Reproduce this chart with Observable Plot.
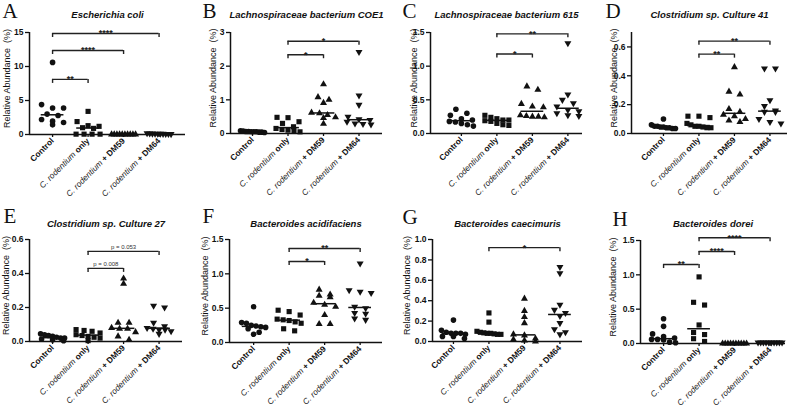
<!DOCTYPE html>
<html><head><meta charset="utf-8">
<script src="https://cdn.jsdelivr.net/npm/d3@7"></script>
<script src="https://cdn.jsdelivr.net/npm/@observablehq/plot@0.6"></script>
<style>
body{margin:0;background:#fff;}
#fig{position:relative;width:800px;height:409px;overflow:hidden;background:#fff;}
#fig > div{position:absolute;}
</style></head><body><div id="fig"></div>
<script>
// ---------- data ----------
const groups = ["Control", "C. rodentium only", "C. rodentium + DM59", "C. rodentium + DM64"];
const panelLetters = ["A", "B", "C", "D", "E", "F", "G", "H"];
const panelTitles = ["Escherichia coli", "Lachnospiraceae bacterium COE1", "Lachnospiraceae bacterium 615",
  "Clostridium sp. Culture 41", "Clostridium sp. Culture 27", "Bacteroides acidifaciens",
  "Bacteroides caecimuris", "Bacteroides dorei"];
const yMax = [15, 3, 1.5, 0.7, 0.6, 1.5, 1.0, 1.5];
const yTicks = [[0, 5, 10, 15], [0, 1, 2, 3], [0, 0.5, 1.0, 1.5], [0, 0.2, 0.4, 0.6],
  [0, 0.2, 0.4, 0.6], [0, 0.5, 1.0, 1.5], [0, 0.2, 0.4, 0.6, 0.8, 1.0], [0, 0.5, 1.0, 1.5]];
const yLabel = "Relative Abundance  (%)";

const escherichiaColi = [
  [10.6, 4.4, 3.9, 3.9, 3.0, 2.8, 2.2, 1.96, 1.76, 1.42],
  [3.4, 1.9, 1.3, 1.2, 1.0, 0.9, 0.05, 0.05, 0.05, 0.05],
  [0.02, 0.02, 0.02, 0.02, 0.02, 0.02, 0.02, 0.02, 0.02, 0.02],
  [0.18, 0.15, 0.13, 0.12, 0.1, 0.1, 0.09, 0.08, 0.08, 0.06]];
const lachnoCOE1 = [
  [0.08, 0.07, 0.06, 0.06, 0.05, 0.05, 0.05, 0.04, 0.04, 0.03],
  [0.48, 0.47, 0.35, 0.3, 0.2, 0.15, 0.12, 0.1, 0.08, 0.05],
  [1.46, 1.08, 1.0, 0.91, 0.62, 0.6, 0.55, 0.48, 0.46, 0.29],
  [2.42, 1.13, 0.85, 0.5, 0.42, 0.4, 0.35, 0.3, 0.28, 0.27]];
const lachno615 = [
  [0.36, 0.3, 0.27, 0.22, 0.2, 0.18, 0.17, 0.15, 0.13, 0.11],
  [0.27, 0.24, 0.22, 0.2, 0.2, 0.19, 0.18, 0.15, 0.13, 0.12],
  [0.7, 0.65, 0.44, 0.4, 0.39, 0.27, 0.26, 0.25, 0.25, 0.24],
  [1.34, 0.58, 0.5, 0.45, 0.4, 0.35, 0.33, 0.3, 0.27, 0.26]];
const clostridium41 = [
  [0.1, 0.06, 0.05, 0.05, 0.045, 0.045, 0.04, 0.04, 0.035, 0.035],
  [0.12, 0.12, 0.11, 0.07, 0.06, 0.05, 0.05, 0.045, 0.04, 0.04],
  [0.46, 0.29, 0.27, 0.17, 0.15, 0.13, 0.12, 0.1, 0.09, 0.08],
  [0.45, 0.45, 0.23, 0.19, 0.16, 0.15, 0.15, 0.1, 0.08, 0.07]];
const clostridium27 = [
  [0.045, 0.04, 0.035, 0.03, 0.025, 0.02, 0.02, 0.015, 0.01, 0.005],
  [0.07, 0.065, 0.06, 0.05, 0.04, 0.035, 0.03, 0.025, 0.02, 0.005],
  [0.37, 0.34, 0.11, 0.11, 0.08, 0.075, 0.075, 0.055, 0.03, 0.01],
  [0.21, 0.2, 0.11, 0.09, 0.08, 0.075, 0.07, 0.07, 0.06, 0.045]];
const bacteroidesAcidifaciens = [
  [0.52, 0.29, 0.28, 0.25, 0.24, 0.23, 0.22, 0.2, 0.15, 0.12],
  [0.47, 0.45, 0.4, 0.34, 0.33, 0.32, 0.3, 0.28, 0.2, 0.17],
  [0.77, 0.7, 0.68, 0.66, 0.58, 0.55, 0.52, 0.4, 0.27, 0.27],
  [1.15, 0.76, 0.74, 0.72, 0.52, 0.5, 0.43, 0.42, 0.35, 0.33]];
const bacteroidesCaecimuris = [
  [0.21, 0.11, 0.09, 0.08, 0.08, 0.08, 0.07, 0.05, 0.05, 0.03],
  [0.28, 0.19, 0.1, 0.09, 0.085, 0.08, 0.08, 0.075, 0.07, 0.07],
  [0.42, 0.3, 0.24, 0.18, 0.07, 0.06, 0.03, 0.02, 0.01, 0.0],
  [0.73, 0.67, 0.36, 0.31, 0.28, 0.25, 0.18, 0.12, 0.09, 0.07]];
const bacteroidesDorei = [
  [0.36, 0.25, 0.14, 0.1, 0.08, 0.06, 0.06, 0.05, 0.02, 0.01],
  [0.97, 0.6, 0.56, 0.27, 0.16, 0.13, 0.07, 0.03],
  [0, 0, 0, 0, 0, 0, 0, 0, 0, 0],
  [0.015, 0.015, 0.015, 0.015, 0.015, 0.015, 0.015, 0.015, 0.015, 0.015]];
const panelValues = [escherichiaColi, lachnoCOE1, lachno615, clostridium41,
  clostridium27, bacteroidesAcidifaciens, bacteroidesCaecimuris, bacteroidesDorei];

// significance brackets: [fromGroup, toGroup, yValue, label]
const bracketsA = [[0, 3, 14.85, "****"], [0, 2, 12.35, "****"], [0, 1, 8.1, "**"]];
const bracketsB = [[1, 3, 2.74, "*"], [1, 2, 2.34, "*"]];
const bracketsC = [[1, 3, 1.48, "**"], [1, 2, 1.18, "*"]];
const bracketsD = [[1, 3, 0.64, "**"], [1, 2, 0.55, "**"]];
const bracketsE = [[1, 3, 0.53, "p = 0.053"], [1, 2, 0.43, "p = 0.008"]];
const bracketsF = [[1, 3, 1.37, "**"], [1, 2, 1.18, "*"]];
const bracketsG = [[1, 3, 0.92, "*"]];
const bracketsH = [[1, 3, 1.54, "****"], [1, 2, 1.34, "****"], [0, 1, 1.15, "**"]];
const panelBrackets = [bracketsA, bracketsB, bracketsC, bracketsD, bracketsE, bracketsF, bracketsG, bracketsH];

// ---------- layout (pixels) ----------
const layout = [
  {left: 0,   top: 0,   w: 200, h: 200, axisX: 29,  axisEnd: 185, yTop: 32,  y0: 134, xMin: -0.65, lab: 22, letX: 2,  letY: 17, titleY: 14},
  {left: 200, top: 0,   w: 200, h: 200, axisX: 230, axisEnd: 382, yTop: 32,  y0: 133, xMin: -0.62, lab: 17, letX: 2,  letY: 17, titleY: 14},
  {left: 400, top: 0,   w: 200, h: 200, axisX: 430, axisEnd: 582, yTop: 32,  y0: 133, xMin: -0.87, lab: 16, letX: 2,  letY: 17, titleY: 14},
  {left: 600, top: 0,   w: 200, h: 200, axisX: 631, axisEnd: 787, yTop: 32,  y0: 133, xMin: -0.9,  lab: 17, letX: 5,  letY: 17, titleY: 14},
  {left: 0,   top: 200, w: 200, h: 209, axisX: 29,  axisEnd: 182, yTop: 239, y0: 341, xMin: -0.65, lab: 23, letX: 3,  letY: 22, titleY: 23},
  {left: 200, top: 200, w: 200, h: 209, axisX: 229, axisEnd: 382, yTop: 239, y0: 342, xMin: -0.68, lab: 24, letX: 2,  letY: 22, titleY: 23},
  {left: 400, top: 200, w: 200, h: 209, axisX: 432, axisEnd: 582, yTop: 239, y0: 341, xMin: -0.59, lab: 25, letX: 2,  letY: 23, titleY: 23},
  {left: 600, top: 200, w: 200, h: 209, axisX: 640, axisEnd: 785, yTop: 240, y0: 343, xMin: -0.65, lab: 27, letX: 12, letY: 25, titleY: 23}
];
const STEP = 35.5;
const FONT = "'Liberation Sans', Arial, Helvetica, sans-serif";

// inverted triangle symbol
const triangleDown = {
  draw(context, size) {
    const y = -Math.sqrt(size / (Math.sqrt(3) * 3));
    const s3 = Math.sqrt(3);
    context.moveTo(0, -y * 2);
    context.lineTo(-s3 * y, y);
    context.lineTo(s3 * y, y);
    context.closePath();
  }
};
const groupSymbols = ["circle", "square", "triangle", triangleDown];
const groupR = [2.8, 2.9, 2.6, 2.6];

// GraphPad-like horizontal spreading of points with similar values (layout only)
function spread(values, ppu) {
  const sorted = values.map(v => v).sort((a, b) => b - a);
  const rows = [];
  for (const v of sorted) {
    const row = rows[rows.length - 1];
    if (row && (row[0] - v) * ppu < 5) row.push(v); else rows.push([v]);
  }
  const out = [];
  for (const row of rows) {
    const n = row.length;
    const half = n === 1 ? 0 : Math.min(12, (n - 1) * 5.5);
    row.forEach((v, k) => out.push({v, off: n === 1 ? 0 : -half + 2 * half * k / (n - 1)}));
  }
  return out;
}

const fig = document.getElementById("fig");
const NS = "http://www.w3.org/2000/svg";

panelValues.forEach((vals, i) => {
  const L = layout[i];
  const ymax = yMax[i];
  const ppu = (L.y0 - L.yTop) / ymax;
  const xMax = L.xMin + (L.axisEnd - L.axisX) / STEP;
  const mL = L.axisX - L.left, mR = L.left + L.w - L.axisEnd;
  const mT = L.yTop - L.top, mB = L.top + L.h - L.y0;
  const fmt = ymax >= 3 ? d3.format("d") : d3.format(".1f");
  const br = panelBrackets[i];
  const tickLen = 4 / ppu;
  const ends = br.flatMap(([a, b, y]) => [{x: a, y}, {x: b, y}]);
  const meds = vals.map((arr, g) => ({g, m: d3.median(arr)}));

  const dotMarks = vals.map((arr, g) => {
    const pts = spread(arr, ppu).map(p => ({x: g + p.off / STEP, v: p.v}));
    return Plot.dot(pts, {x: "x", y: "v", symbol: groupSymbols[g], r: groupR[g], fill: "#111", stroke: "none"});
  });

  const plot = Plot.plot({
    width: L.w, height: L.h,
    marginLeft: mL, marginRight: mR, marginTop: mT, marginBottom: mB,
    x: {type: "linear", domain: [L.xMin, xMax]},
    y: {type: "linear", domain: [0, ymax]},
    style: {fontFamily: FONT, color: "#111", background: "transparent", overflow: "visible"},
    marks: [
      Plot.axisY({ticks: yTicks[i], tickFormat: fmt, tickSize: 4, tickPadding: 2, fontSize: 8.5, fontWeight: "bold", label: null, strokeWidth: 1.3}),
      Plot.axisX({ticks: [0, 1, 2, 3], tickFormat: d => groups[d], tickRotate: -45, tickSize: 3, tickPadding: 2, fontSize: 8.3, fontWeight: "bold", label: null, strokeWidth: 1.3}),
      Plot.ruleX([L.xMin], {stroke: "#111", strokeWidth: 1.5}),
      Plot.ruleY([0], {stroke: "#111", strokeWidth: 1.5}),
      Plot.text([yLabel], {frameAnchor: "left", textAnchor: "middle", lineAnchor: "middle", rotate: -90, dx: -L.lab, dy: -5, fontSize: 9, fill: "#111", text: d => d}),
      Plot.text([panelTitles[i]], {frameAnchor: "top", textAnchor: "middle", lineAnchor: "middle", dy: -(mT - (L.titleY)), fontSize: 9.5, fontWeight: "bold", fontStyle: "italic", fill: "#111", text: d => d}),
      Plot.text([panelLetters[i]], {frameAnchor: "top-left", textAnchor: "start", lineAnchor: "bottom", dx: -(mL - L.letX), dy: -(mT - L.letY), fontFamily: "'Liberation Serif', 'Times New Roman', serif", fontSize: 21, fill: "#111", text: d => d}),
      ...dotMarks,
      Plot.ruleY(meds, {x1: d => d.g - 0.32, x2: d => d.g + 0.32, y: "m", stroke: "#111", strokeWidth: 1.5}),
      Plot.ruleY(br, {x1: d => d[0], x2: d => d[1], y: d => d[2], stroke: "#222", strokeWidth: 1.4}),
      Plot.ruleX(ends, {x: "x", y1: "y", y2: d => d.y - tickLen, stroke: "#222", strokeWidth: 1.4}),
      Plot.text(br.filter(d => !d[3].startsWith("p")), {x: d => (d[0] + d[1]) / 2, y: d => d[2], text: d => d[3], fontSize: 9, fontWeight: "bold", lineAnchor: "middle", dy: 0, fill: "#222"}),
      Plot.text(br.filter(d => d[3].startsWith("p")), {x: d => (d[0] + d[1]) / 2, y: d => d[2], text: d => d[3], fontSize: 6, lineAnchor: "bottom", dy: -2, fill: "#333"})
    ]
  });

  // mixed styling in the x tick labels: italic species name
  plot.querySelectorAll('g[aria-label="x-axis tick label"] text').forEach(t => {
    const s = t.textContent;
    if (s.startsWith("C. rodentium")) {
      const rest = s.slice("C. rodentium".length);
      while (t.firstChild) t.removeChild(t.firstChild);
      const a = document.createElementNS(NS, "tspan");
      a.setAttribute("font-style", "italic");
      a.setAttribute("font-weight", "normal");
      a.setAttribute("fill", "#222");
      a.textContent = "C. rodentium";
      const b = document.createElementNS(NS, "tspan");
      b.setAttribute("font-weight", "bold");
      b.setAttribute("fill", "#111");
      b.textContent = rest;
      t.appendChild(a); t.appendChild(b);
    }
  });

  const div = document.createElement("div");
  div.style.left = L.left + "px";
  div.style.top = L.top + "px";
  div.style.width = L.w + "px";
  div.style.height = L.h + "px";
  div.appendChild(plot);
  fig.appendChild(div);
});
</script></body></html>
